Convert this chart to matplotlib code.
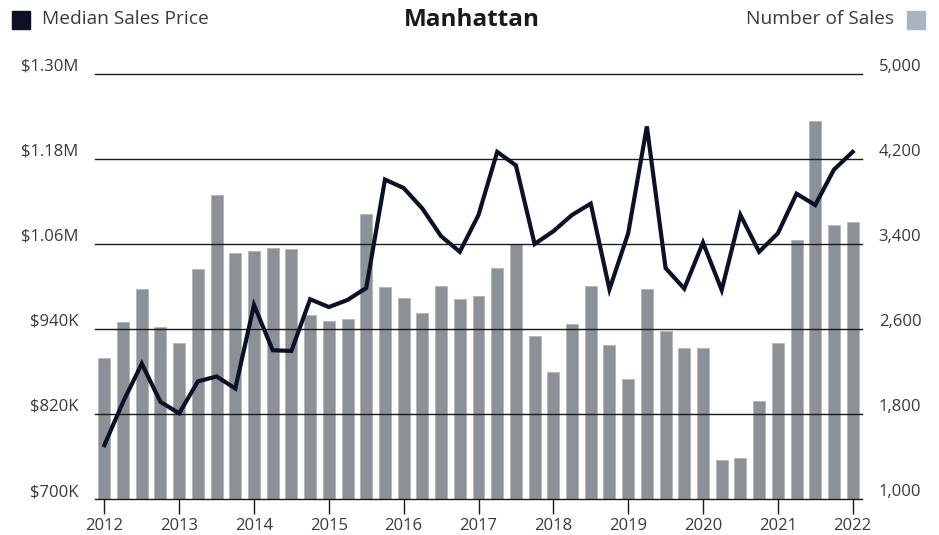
import matplotlib
matplotlib.use("Agg")
import matplotlib.pyplot as plt
import matplotlib.transforms as mtransforms
from matplotlib.patches import Rectangle
import numpy as np

plt.rcParams['font.family'] = ['Open Sans', 'DejaVu Sans']

years = ["2012", "2013", "2014", "2015", "2016", "2017", "2018", "2019", "2020", "2021", "2022"]

# Quarterly, 2012 Q1 .. 2022 Q1
sales = [2324, 2663, 2973, 2616, 2471, 3165, 3861, 3318, 3331, 3365,
         3350, 2735, 2678, 2691, 3680, 2992, 2895, 2754, 3002, 2885,
         2911, 3174, 3397, 2531, 2192, 2644, 3005, 2446, 2132, 2977,
         2578, 2418, 2421, 1364, 1383, 1919, 2471, 3441, 4555, 3582,
         3607]

price = [776, 837, 891, 837, 821, 866, 873, 856, 974, 910,
         909, 982, 971, 981, 998, 1151, 1139, 1110, 1071, 1049,
         1101, 1190, 1171, 1060, 1078, 1101, 1117, 996, 1075, 1226,
         1026, 997, 1062, 995, 1101, 1049, 1075, 1131, 1115, 1165,
         1190]  # thousands of dollars

price_ticks = [700, 820, 940, 1060, 1180, 1300]
price_labels = ["$700K", "$820K", "$940K", "$1.06M", "$1.18M", "$1.30M"]
sales_ticks = [1000, 1800, 2600, 3400, 4200, 5000]
sales_labels = ["1,000", "1,800", "2,600", "3,400", "4,200", "5,000"]

W, H = 939, 535
fig = plt.figure(figsize=(W / 100, H / 100), dpi=100)
ax = fig.add_axes([95 / W, 1 - 499 / H, (862 - 95) / W, (499 - 74) / H])
ax2 = ax.twinx()

x = np.arange(len(sales))
bar_color = "#8c9198"
line_color = "#0b1228"
text_color = "#3a3a3a"

ax.bar(x, sales, width=0.64, color=bar_color, edgecolor="#b4b8bd", linewidth=0.7, zorder=2)
ax.set_ylim(1000, 5000)
ax.set_xlim(-0.5, len(sales) - 0.5)
for t in sales_ticks:
    ax.axhline(t, color="#1a1a1a", lw=1.0, zorder=3, clip_on=False)

ax2.plot(x, price, color=line_color, lw=3.0, solid_joinstyle="miter", zorder=5)
ax2.set_ylim(700, 1300)

# bars axis -> ticks on right, price axis -> ticks on left
ax.yaxis.tick_right()
ax2.yaxis.tick_left()
ax.set_yticks(sales_ticks)
ax.set_yticklabels(sales_labels)
ax2.set_yticks(price_ticks)
ax2.set_yticklabels(price_labels)

for a in (ax, ax2):
    for s in ["top", "left", "right", "bottom"]:
        a.spines[s].set_visible(False)
    a.tick_params(axis="y", length=0, labelsize=12, labelcolor=text_color)

ax.tick_params(axis="y", pad=12)
ax2.tick_params(axis="y", pad=12)

off = mtransforms.ScaledTranslation(0, 9 / 100, fig.dpi_scale_trans)
for lab in ax.get_yticklabels() + ax2.get_yticklabels():
    lab.set_transform(lab.get_transform() + off)

ax.set_xticks(x[::4])
ax.set_xticklabels(years)
ax.set_xticks(x, minor=True)
ax.tick_params(axis="x", which="major", direction="inout", length=21, width=1.0,
               color="#1a1a1a", labelsize=12, labelcolor=text_color, pad=3)
ax.tick_params(axis="x", which="minor", direction="in", length=10, width=0.9, color="#1a1a1a")

ax.set_zorder(1)
ax2.set_zorder(2)
ax2.patch.set_visible(False)

# Header: legend and title
fig.patches.append(Rectangle((12 / W, 1 - 29 / H), 18 / W, 18 / H, transform=fig.transFigure,
                             color=line_color, figure=fig))
fig.text(42 / W, 1 - 19 / H, "Median Sales Price", ha="left", va="center",
         fontsize=13.8, color=text_color)
fig.text(472 / W, 1 - 20 / H, "Manhattan", ha="center", va="center",
         fontsize=17.5, fontweight="bold", color="#1a1a1a")
fig.patches.append(Rectangle((907 / W, 1 - 29 / H), 18 / W, 18 / H, transform=fig.transFigure,
                             color="#a9b4c2", figure=fig))
fig.text(894 / W, 1 - 19 / H, "Number of Sales", ha="right", va="center",
         fontsize=13.8, color=text_color)

fig.savefig("out.png", dpi=100)
